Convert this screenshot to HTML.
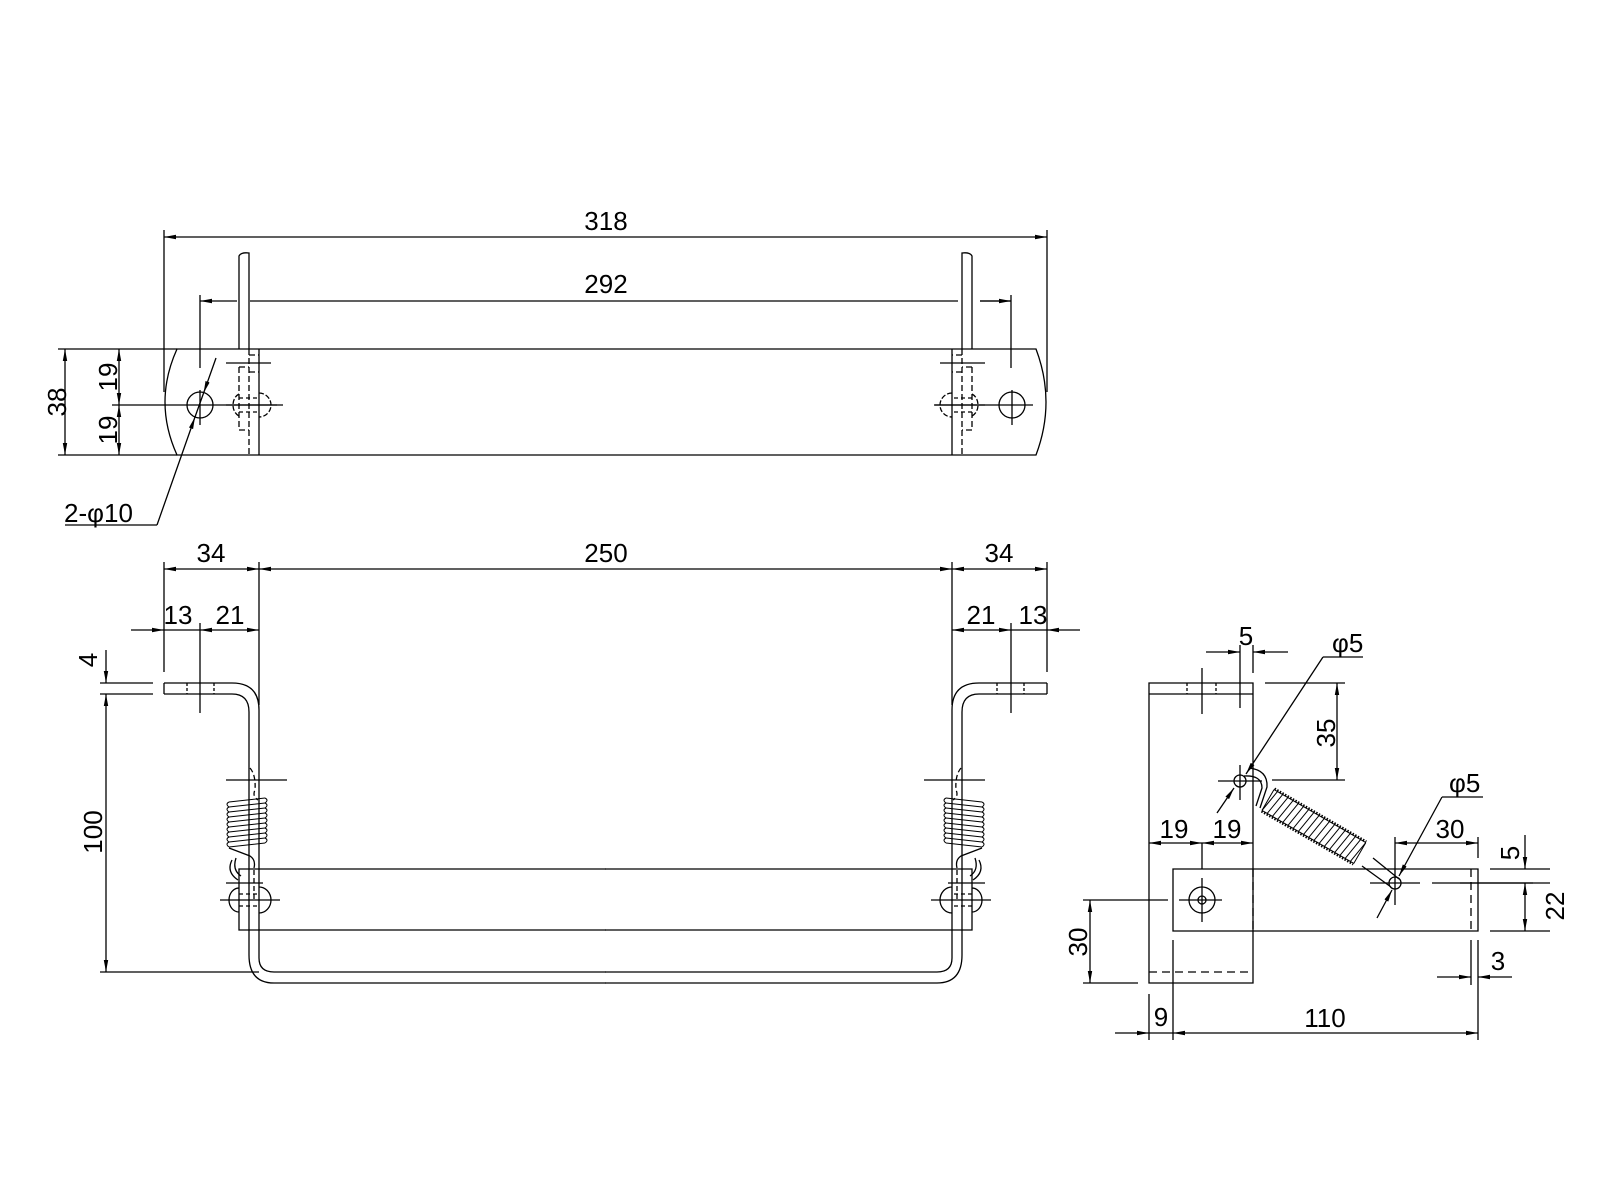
<!DOCTYPE html>
<html><head><meta charset="utf-8"><style>
html,body{margin:0;padding:0;background:#fff;}
svg{display:block;}
text{font-family:"Liberation Sans",sans-serif;font-size:26px;fill:#000;}
</style></head><body>
<svg width="1600" height="1200" viewBox="0 0 1600 1200" xmlns="http://www.w3.org/2000/svg">
<defs>
<marker id="a" viewBox="0 0 12 5" refX="12" refY="2.5" markerWidth="12" markerHeight="5" markerUnits="userSpaceOnUse" orient="auto-start-reverse"><path d="M0,0.3 L12,2.5 L0,4.7z" fill="#000"/></marker>
</defs>
<rect width="1600" height="1200" fill="#fff"/>
<g fill="none" stroke="#000" stroke-width="1.3">

<!-- ========== TOP VIEW ========== -->
<path d="M177,349 H1036 Q1056,402 1036,455 H177 Q153,402 177,349 Z"/>
<path d="M164,237 H1047" marker-start="url(#a)" marker-end="url(#a)"/>
<path d="M164,230 V392 M1047,230 V392"/>
<path d="M200,301 H237" marker-start="url(#a)"/>
<path d="M250,301 H958 M980,301 H1011"/>
<path d="M980,301 H1011" marker-end="url(#a)"/>
<path d="M200,295 V368 M1011,295 V368"/>
<path d="M65,349 V455" marker-start="url(#a)" marker-end="url(#a)"/>
<path d="M58,349 H177 M58,455 H177"/>
<path d="M119,349 V405" marker-start="url(#a)" marker-end="url(#a)"/>
<path d="M119,405 V455" marker-start="url(#a)" marker-end="url(#a)"/>
<path d="M112,405 H283 M200,390 V425"/>
<circle cx="200" cy="405" r="13"/>
<path d="M935,405 H1033 M1012,390 V425"/>
<circle cx="1012" cy="405" r="13"/>
<path d="M216,358 L203.6,393" marker-end="url(#a)"/>
<path d="M157,525 L195,417" marker-end="url(#a)"/>
<path d="M195,417 L203.6,393 M157,525 H65"/>

<g id="strip">
<path d="M239,349 V256 Q241,252 249,253 V349"/>
<path d="M259,349 V455"/>
<path d="M249,349 V455 M239,367 H249 M239,430 H249 M239,367 V430 M249,355 H259 M249,372 H259" stroke-dasharray="6 3"/>
<path d="M226,363 H271 M226,405 H277"/>
<path d="M239,394 A10,12 0 0 0 239,416 M259,393 A12,12 0 0 1 259,417" stroke-dasharray="5 2"/>
<path d="M239,398 H259 M239,412 H259" stroke-dasharray="4 3"/>
</g>
<use href="#strip" transform="translate(1211,0) scale(-1,1)"/>

<!-- ========== FRONT VIEW ========== -->
<g id="half">
<path d="M164,683 H232 Q259,683 259,710 V958 Q259,972 274,972 H606"/>
<path d="M164,694 H232 Q249,694 249,712 V955 Q249,983 274,983 H606"/>
<path d="M164,683 V694"/>
<path d="M187,683 V694 M214,683 V694" stroke-dasharray="3 2"/>
<path d="M200,623 V713"/>
<path d="M606,869 H239 V930 H606"/>
<g stroke-width="1">
<path d="M229,802 L265,798 M229,807 L265,803 M229,812 L265,808 M229,817 L265,813 M229,822 L265,818 M229,827 L265,823 M229,832 L265,828 M229,837 L265,833 M229,842 L265,838 M229,847 L265,843"/>
<path d="M229,802 Q225,804 229,807 Q225,809 229,812 Q225,814 229,817 Q225,819 229,822 Q225,824 229,827 Q225,829 229,832 Q225,834 229,837 Q225,839 229,842 Q225,844 229,847"/>
<path d="M265,798 Q269,800 265,803 Q269,805 265,808 Q269,810 265,813 Q269,815 265,818 Q269,820 265,823 Q269,825 265,828 Q269,830 265,833 Q269,835 265,838 Q269,840 265,843"/>
</g>
<path d="M229,848 L250,856 Q256,860 254,868 M232,860 Q226,872 238,880 M236,858 Q232,870 241,876"/>
<path d="M250,768 Q256,775 255,790 Q252,796 258,800 M254,870 V900" stroke-dasharray="5 3"/>
<path d="M226,780 H287 M226,883 H263 M220,900 H280"/>
<path d="M239,888 A10,12 0 0 0 239,912 M259,887 A12,13 0 0 1 259,913"/>
<path d="M239,894 H259 M239,906 H259" stroke-dasharray="4 3"/>
</g>
<use href="#half" transform="translate(1211,0) scale(-1,1)"/>

<path d="M164,569 H259" marker-start="url(#a)" marker-end="url(#a)"/>
<path d="M259,569 H952" marker-start="url(#a)" marker-end="url(#a)"/>
<path d="M952,569 H1047" marker-start="url(#a)" marker-end="url(#a)"/>
<path d="M164,562 V672 M259,562 V705 M952,562 V705 M1047,562 V672"/>
<path d="M131,630 H164" marker-end="url(#a)"/>
<path d="M164,630 H200"/>
<path d="M200,630 H259" marker-start="url(#a)" marker-end="url(#a)"/>
<path d="M952,630 H1011" marker-start="url(#a)" marker-end="url(#a)"/>
<path d="M1011,630 H1047"/>
<path d="M1080,630 H1047" marker-end="url(#a)"/>
<path d="M106,650 V683" marker-end="url(#a)"/>
<path d="M100,683 H153 M100,694 H153"/>
<path d="M106,694 V972" marker-start="url(#a)" marker-end="url(#a)"/>
<path d="M100,972 H259"/>

<!-- ========== SIDE VIEW ========== -->
<path d="M1149,683 H1253 V983 H1149 Z"/>
<path d="M1149,694 H1253"/>
<path d="M1187,683 V694 M1216,683 V694" stroke-dasharray="3 2"/>
<path d="M1149,972 H1253" stroke-dasharray="8 5"/>
<path d="M1202,668 V714 M1240,645 V708 M1253,645 V673"/>
<path d="M1206,652 H1240" marker-end="url(#a)"/>
<path d="M1288,652 H1253" marker-end="url(#a)"/>
<path d="M1337,683 V780" marker-start="url(#a)" marker-end="url(#a)"/>
<path d="M1265,683 H1345 M1272,780 H1345"/>
<circle cx="1240" cy="781" r="6"/>
<path d="M1218,781 H1262 M1240,765 V800"/>
<path d="M1323,657 L1246,774" marker-end="url(#a)"/>
<path d="M1323,657 H1363"/>
<path d="M1217,813 L1234,788" marker-end="url(#a)"/>
<path d="M1249,768 Q1268,770 1267,787 L1260,808"/>
<path d="M1244,776 Q1262,775 1262,788 L1256,806"/>
<g transform="translate(1268,800) rotate(30)" stroke-width="1">
<path d="M0,-12 H106 M0,12 H106 M0,-12 V12 M106,-12 V12"/>
<path d="M4,-12 L0,12 M10,-12 L6,12 M16,-12 L12,12 M22,-12 L18,12 M28,-12 L24,12 M34,-12 L30,12 M40,-12 L36,12 M46,-12 L42,12 M52,-12 L48,12 M58,-12 L54,12 M64,-12 L60,12 M70,-12 L66,12 M76,-12 L72,12 M82,-12 L78,12 M88,-12 L84,12 M94,-12 L90,12 M100,-12 L96,12 M106,-12 L102,12"/>
<path d="M0,-13 H106 M0,13 H106" stroke-dasharray="1.5 1.5" stroke-width="2.5"/>
</g>
<path d="M1362,866 L1391,887 M1373,858 L1399,879"/>
<path d="M1173,869 H1478 V931 H1173 Z"/>
<path d="M1471,869 V931 M1253,869 V931" stroke-dasharray="8 5"/>
<path d="M1370,883 H1420 M1432,883 H1533 M1395,837 V905"/>
<circle cx="1395" cy="883" r="6"/>
<circle cx="1202" cy="900" r="13"/>
<circle cx="1202" cy="900" r="4"/>
<path d="M1179,900 H1222 M1202,878 V922 M1202,843 V869"/>
<path d="M1442,797 L1399,876" marker-end="url(#a)"/>
<path d="M1442,797 H1483"/>
<path d="M1377,918 L1392,890" marker-end="url(#a)"/>
<path d="M1395,843 H1478" marker-start="url(#a)" marker-end="url(#a)"/>
<path d="M1478,837 V858"/>
<path d="M1149,843 H1202" marker-start="url(#a)" marker-end="url(#a)"/>
<path d="M1202,843 H1253" marker-start="url(#a)" marker-end="url(#a)"/>
<path d="M1490,869 H1550 M1490,931 H1550 M1460,883 H1550"/>
<path d="M1525,835 V869" marker-end="url(#a)"/>
<path d="M1525,883 V931" marker-start="url(#a)" marker-end="url(#a)"/>
<path d="M1090,900 V983" marker-start="url(#a)" marker-end="url(#a)"/>
<path d="M1083,900 H1168 M1083,983 H1138"/>
<path d="M1437,977 H1471" marker-end="url(#a)"/>
<path d="M1512,977 H1478" marker-end="url(#a)"/>
<path d="M1471,940 V985 M1478,940 V1040"/>
<path d="M1115,1033 H1149" marker-end="url(#a)"/>
<path d="M1149,1033 H1173"/>
<path d="M1173,1033 H1478" marker-start="url(#a)" marker-end="url(#a)"/>
<path d="M1149,994 V1040 M1173,940 V1040"/>
</g>

<g text-anchor="middle">
<text x="606" y="230">318</text>
<text x="606" y="293">292</text>
<text x="57" y="402" transform="rotate(-90 57 402)" dy="9">38</text>
<text x="108" y="377" transform="rotate(-90 108 377)" dy="9">19</text>
<text x="108" y="430" transform="rotate(-90 108 430)" dy="9">19</text>
<text x="211" y="562">34</text>
<text x="606" y="562">250</text>
<text x="999" y="562">34</text>
<text x="178" y="624">13</text>
<text x="230" y="624">21</text>
<text x="981" y="624">21</text>
<text x="1033" y="624">13</text>
<text x="88" y="660" transform="rotate(-90 88 660)" dy="9">4</text>
<text x="93" y="832" transform="rotate(-90 93 832)" dy="9">100</text>
<text x="1246" y="645">5</text>
<text x="1326" y="733" transform="rotate(-90 1326 733)" dy="9">35</text>
<text x="1174" y="838">19</text>
<text x="1227" y="838">19</text>
<text x="1450" y="838">30</text>
<text x="1510" y="853" transform="rotate(-90 1510 853)" dy="9">5</text>
<text x="1555" y="906" transform="rotate(-90 1555 906)" dy="9">22</text>
<text x="1078" y="942" transform="rotate(-90 1078 942)" dy="9">30</text>
<text x="1498" y="970">3</text>
<text x="1161" y="1026">9</text>
<text x="1325" y="1027">110</text>
</g>
<text x="64" y="522">2-φ10</text>
<text x="1332" y="652">φ5</text>
<text x="1449" y="792">φ5</text>
</svg>
</body></html>
